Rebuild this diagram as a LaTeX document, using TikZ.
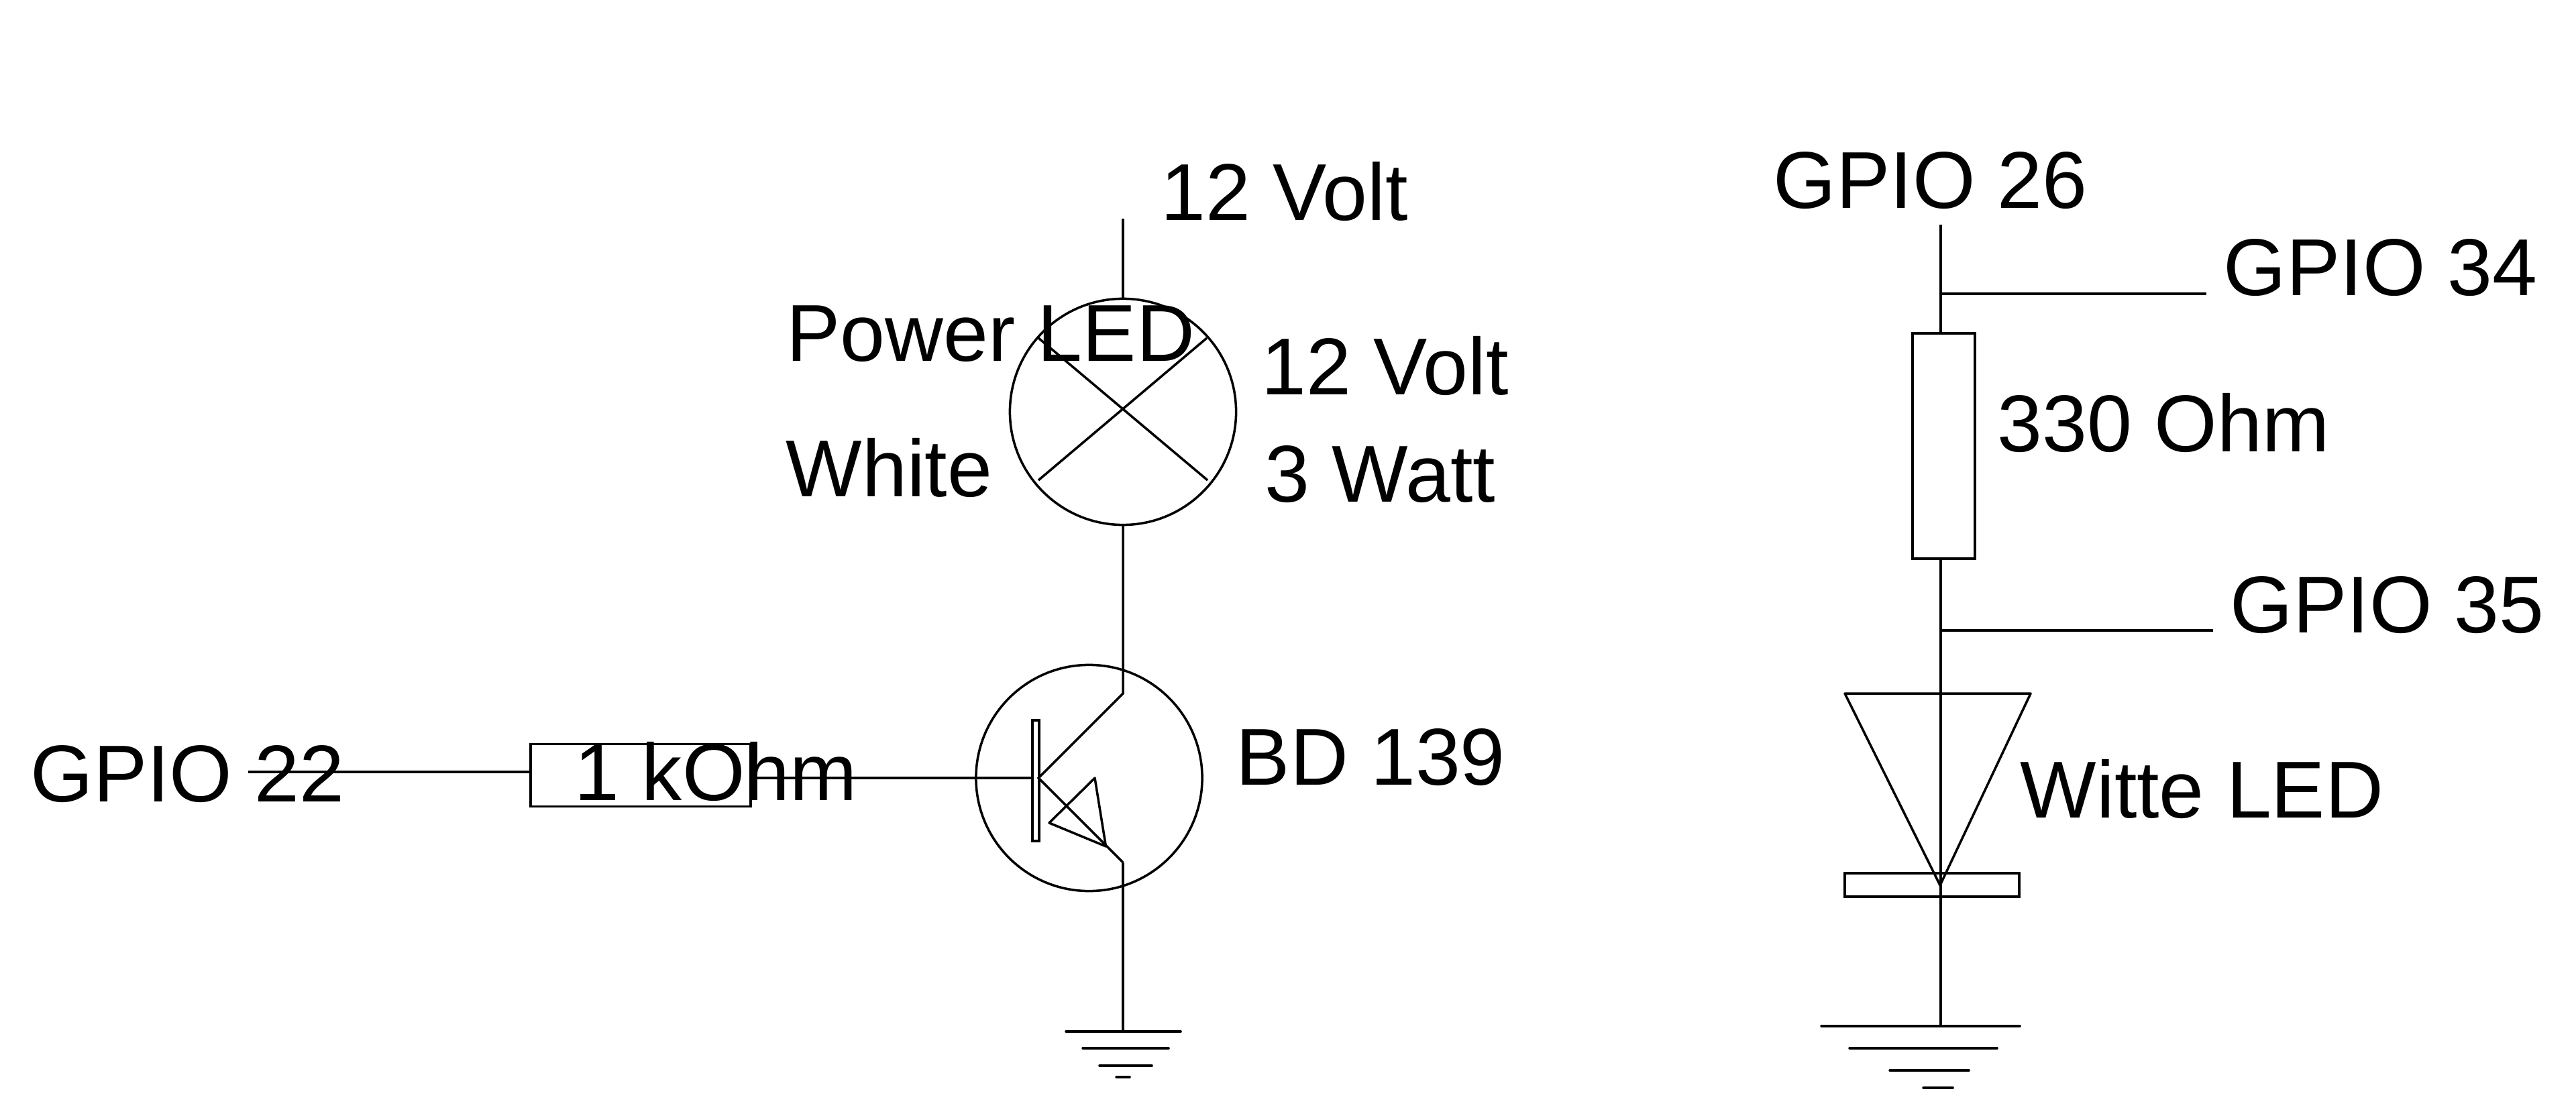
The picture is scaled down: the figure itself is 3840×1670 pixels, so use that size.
\documentclass[tikz,border=0pt]{standalone}
\usepackage{fontspec}
\setmainfont{Liberation Sans}
\usetikzlibrary{math}
\tikzset{
    lbl/.style={anchor=base west, inner sep=0pt, font=\fontsize{34.2}{35}\selectfont},
    rnd/.style={draw, circle, minimum size=3.37cm, inner sep=0pt, outer sep=0pt},
    gnd/.style={line cap=round}
}
\begin{document}
\begin{tikzpicture}[x=0.01cm, y=-0.01cm, line width=1pt]
    \tikzmath{\lx = 1674; \rx = 2893; \by = 1160;}
    \useasboundingbox (0,0) rectangle (3840,1670);

    % left side: labels
    \node[lbl] (volttop) at (1729,329) {12 Volt};
    \node[lbl] (powerled) at (1171,538) {Power LED};
    \node[lbl] (white) at (1170,740) {White};
    \node[lbl] (voltlamp) at (1879,588) {12 Volt};
    \node[lbl] (watt) at (1884,748) {3 Watt};
    \node[lbl] (bd) at (1841,1170) {BD 139};
    \node[lbl] (gpiott) at (44,1195) {GPIO 22};

    % lamp
    \node[rnd] (lamp) at (\lx,614) {};
    \coordinate (lamptop) at (\lx,326);
    \coordinate (crossa) at (1548,504);
    \coordinate (crossb) at (1800,716);
    \coordinate (crossc) at (1799,504);
    \coordinate (crossd) at (1548,716);
    \draw (lamptop)--(lamp.north);
    \draw (crossa)--(crossb);
    \draw (crossc)--(crossd);

    % transistor
    \node[rnd] (trans) at (1623.5,\by) {};
    \node[draw, minimum width=0.1cm, minimum height=1.8cm, inner sep=0pt, outer sep=0pt] (bar) at (1544,1164) {};
    \coordinate (base) at (1548,\by);
    \coordinate (coll) at (\lx,1034);
    \coordinate (emit) at (\lx,1286);
    \coordinate (arrowa) at (1632,\by);
    \coordinate (arrowb) at (1564,1227);
    \coordinate (arrowc) at (1648.5,1262);
    \draw (lamp.south)--(coll)--(base)--(emit);
    \draw[line join=round] (arrowa)--(arrowb)--(arrowc)--cycle;

    % base resistor
    \node[draw, minimum width=3.28cm, minimum height=0.93cm, inner sep=0pt, outer sep=0pt] (rbase) at (955,1156) {};
    \node[lbl] (kohm) at (855,1193) {1 kOhm};
    \coordinate (gpioin) at (370,1151);
    \coordinate (rbasel) at (791,1151);
    \coordinate (rbaser) at (1119,\by);
    \coordinate (barl) at (1539,\by);
    \draw (gpioin)--(rbasel);
    \draw (rbaser)--(barl);

    % left ground
    \coordinate (gndl) at (\lx,1538);
    \draw (emit)--(gndl);
    \coordinate (gla) at (1589,1538); \coordinate (glb) at (1760,1538);
    \coordinate (glc) at (1614,1563); \coordinate (gld) at (1742,1563);
    \coordinate (gle) at (1639,1589); \coordinate (glf) at (1717,1589);
    \coordinate (glg) at (1664,1606); \coordinate (glh) at (1684,1606);
    \draw[gnd] (gla)--(glb) (glc)--(gld) (gle)--(glf) (glg)--(glh);

    % right side
    \node[lbl] (gpiots) at (2642,311) {GPIO 26};
    \node[lbl] (gpiotf) at (3313,441) {GPIO 34};
    \node[lbl] (ohm) at (2976,673) {330 Ohm};
    \node[lbl] (gpiotv) at (3323,943) {GPIO 35};
    \node[lbl] (witte) at (3010,1219) {Witte LED};

    \node[draw, minimum width=0.93cm, minimum height=3.36cm, inner sep=0pt, outer sep=0pt] (rled) at (2897.5,665) {};
    \node[draw, minimum width=2.6cm, minimum height=0.35cm, inner sep=0pt, outer sep=0pt] (cath) at (2880,1319.5) {};
    \coordinate (rtop) at (\rx,335);
    \coordinate (tapa) at (\rx,438);
    \coordinate (tapae) at (3289,438);
    \coordinate (tapb) at (\rx,940);
    \coordinate (tapbe) at (3299,940);
    \coordinate (grnd) at (\rx,1530);
    \draw (rtop)--(rtop|-rled.north);
    \draw (grnd|-rled.south)--(grnd);
    \draw (tapa)--(tapae);
    \draw (tapb)--(tapbe);
    \coordinate (leda) at (2750,1034);
    \coordinate (ledb) at (3027,1034);
    \coordinate (ledc) at (2892,1320);
    \draw[line join=round] (leda)--(ledb)--(ledc)--cycle;

    % right ground
    \coordinate (gra) at (2715,1530); \coordinate (grb) at (3011,1530);
    \coordinate (grc) at (2757,1563); \coordinate (grd) at (2977,1563);
    \coordinate (gre) at (2817,1596); \coordinate (grf) at (2935,1596);
    \coordinate (grg) at (2867,1622); \coordinate (grh) at (2911,1622);
    \draw[gnd] (gra)--(grb) (grc)--(grd) (gre)--(grf) (grg)--(grh);
\end{tikzpicture}
\end{document}
